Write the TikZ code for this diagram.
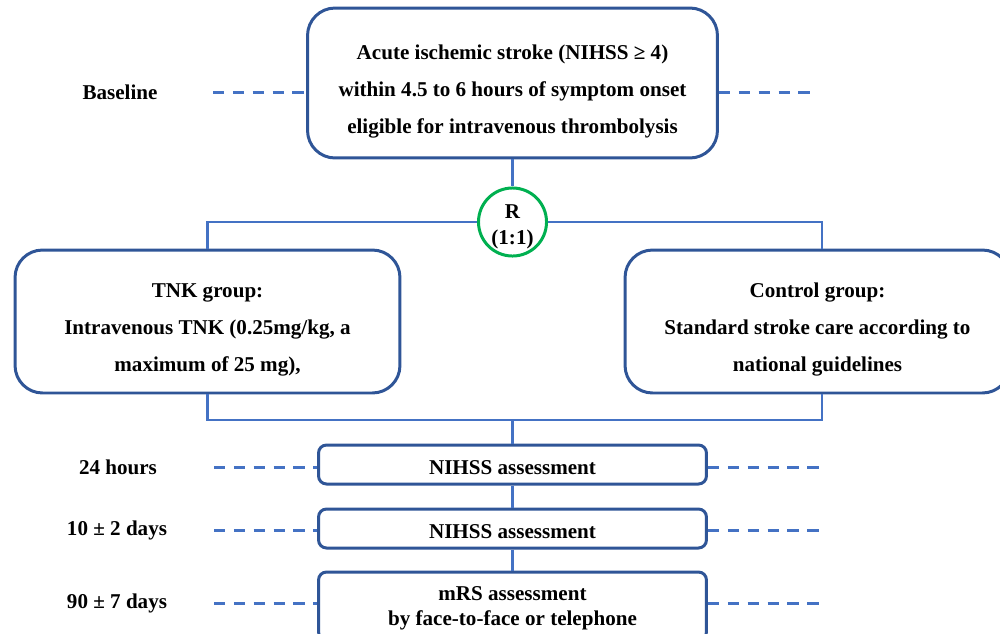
\documentclass[tikz,border=0pt]{standalone}
\usepackage{fontspec}
\setmainfont{Liberation Serif}
\newcommand\lift[1]{\rule{0pt}{#1}}
\begin{document}
\begin{tikzpicture}[x=0.02cm,y=-0.02cm,
  font=\bfseries\fontsize{12}{21}\selectfont,
  bigbox/.style={draw=boxblue,line width=1.7pt,rounded corners=0.55cm,fill=white,align=center,inner sep=0pt},
  smallbox/.style={draw=boxblue,line width=1.7pt,rounded corners=0.16cm,fill=white,align=center,inner sep=0pt,minimum width=7.76cm},
  conn/.style={draw=lineblue,line width=1.2pt},
  dashline/.style={draw=lineblue,line width=1.7pt,dash pattern=on 6.5pt off 4.8pt},
  lab/.style={align=center}]
\definecolor{boxblue}{HTML}{2F5597}
\definecolor{lineblue}{HTML}{4472C4}
\definecolor{rgreen}{HTML}{00B050}
\useasboundingbox (0,0) rectangle (1000,633);
\clip (0,0) rectangle (1000,633);
% nodes
\node[bigbox,minimum width=8.2cm,minimum height=3.0cm] (top) at (512.5,83)
 {\lift{18pt}Acute ischemic stroke (NIHSS ≥ 4)\\within 4.5 to 6 hours of symptom onset\\eligible for intravenous thrombolysis};
\node[draw=rgreen,line width=1.7pt,circle,fill=white,minimum size=1.3cm,inner sep=0pt,align=center,font=\bfseries\fontsize{12}{14.5}\selectfont] (R) at (512.5,222) {\lift{13.5pt}R\\(1:1)};
\node[bigbox,minimum width=7.7cm,minimum height=2.86cm] (tnk) at (207.5,321.5)
 {\lift{17pt}TNK group:\\Intravenous TNK (0.25mg/kg, a\\maximum of 25 mg),};
\node[bigbox,minimum width=7.7cm,minimum height=2.86cm] (ctrl) at (817.5,321.5)
 {\lift{17pt}Control group:\\Standard stroke care according to\\national guidelines};
\node[smallbox,minimum height=0.78cm] (n1) at (512.5,464.5) {\lift{11.5pt}NIHSS assessment};
\node[smallbox,minimum height=0.78cm] (n2) at (512.5,528.5) {\lift{11.5pt}NIHSS assessment};
\node[smallbox,minimum height=1.36cm,font=\bfseries\fontsize{12}{13.8}\selectfont] (n3) at (512.5,606) {\lift{10.5pt}mRS assessment\\by face-to-face or telephone};
% labels
\node[lab] (lb) at (120,92) {Baseline};
\node[lab] (l24) at (118,467) {24 hours};
\node[lab] (l10) at (117,530) {10 ± 2 days};
\node[lab] (l90) at (117,603) {90 ± 7 days};
% connectors
\coordinate (j) at (512.5,420);
\draw[conn] (top.south) -- (R.north);
\draw[conn] (R.west) -| (tnk.north);
\draw[conn] (R.east) -| ([xshift=2.5]ctrl.north);
\draw[conn] (tnk.south) |- (j);
\draw[conn] ([xshift=2.5]ctrl.south) |- (j);
\draw[conn] (j) -- (n1.north);
\draw[conn] (n1.south) -- (n2.north);
\draw[conn] (n2.south) -- (n3.north);
% dashed timeline lines
\coordinate (d0l) at (213,92); \coordinate (d0r) at (818,92);
\coordinate (d1l) at (214,467); \coordinate (d1r) at (820,467);
\coordinate (d2l) at (214,530); \coordinate (d2r) at (820,530);
\coordinate (d3l) at (214,603); \coordinate (d3r) at (820,603);
\draw[dashline] (d0l) -- (d0l -| top.west);
\draw[dashline] (d0l -| top.east) -- (d0r);
\draw[dashline] (d1l) -- (d1l -| n1.west);
\draw[dashline] (d1l -| n1.east) -- (d1r);
\draw[dashline] (d2l) -- (d2l -| n2.west);
\draw[dashline] (d2l -| n2.east) -- (d2r);
\draw[dashline] (d3l) -- (d3l -| n3.west);
\draw[dashline] (d3l -| n3.east) -- (d3r);
\end{tikzpicture}
\end{document}
